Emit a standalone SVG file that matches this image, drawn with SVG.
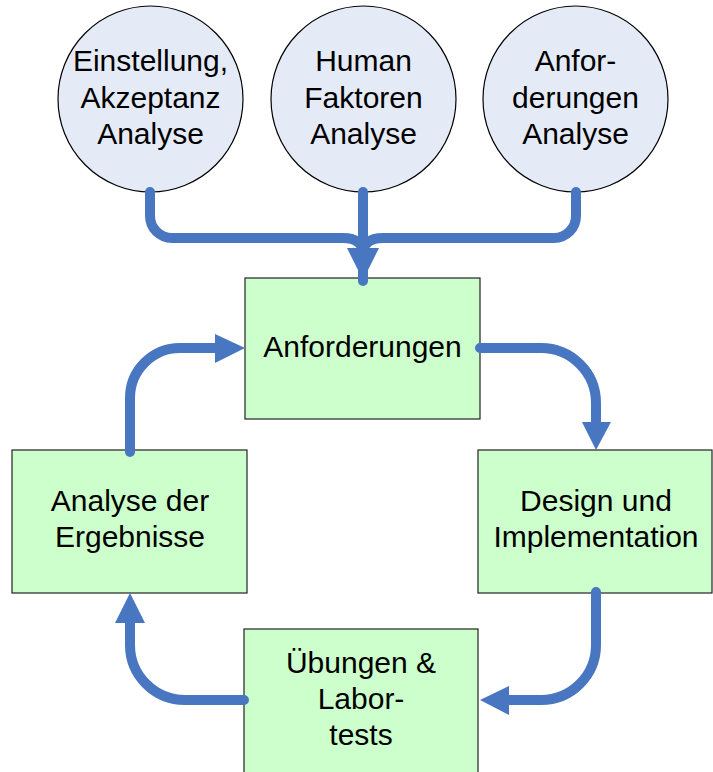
<svg xmlns="http://www.w3.org/2000/svg" width="713" height="772" viewBox="0 0 713 772">
<defs>
<style>
.ell{fill:#E5EBF6;stroke:#000;stroke-width:1.2}
.box{fill:#CCFFCC;stroke:#222;stroke-width:1.2}
.t{font-family:"Liberation Sans",Arial,sans-serif;font-size:30px;fill:#000;text-anchor:middle}
.c{fill:none;stroke:#4876C0;stroke-width:10;stroke-linecap:round;stroke-linejoin:round}
.ah{fill:#4876C0}
</style>
</defs>
<rect width="713" height="772" fill="#fff"/>
<g id="n1">
<ellipse class="ell" cx="150.5" cy="99" rx="92.5" ry="93"/>
<text class="t" x="150.5" y="71">Einstellung,</text>
<text class="t" x="150.5" y="108">Akzeptanz</text>
<text class="t" x="150.5" y="144">Analyse</text>
</g>
<g id="n2">
<ellipse class="ell" cx="363.5" cy="99" rx="92.5" ry="93"/>
<text class="t" x="363.5" y="71">Human</text>
<text class="t" x="363.5" y="108">Faktoren</text>
<text class="t" x="363.5" y="144">Analyse</text>
</g>
<g id="n3">
<ellipse class="ell" cx="575.5" cy="99" rx="92.5" ry="93"/>
<text class="t" x="575.5" y="71">Anfor-</text>
<text class="t" x="575.5" y="108">derungen</text>
<text class="t" x="575.5" y="144">Analyse</text>
</g>
<g id="n4">
<rect class="box" x="245" y="278" width="235" height="141"/>
<text class="t" x="362.5" y="357">Anforderungen</text>
</g>
<g id="n5">
<rect class="box" x="12" y="450" width="235" height="143"/>
<text class="t" x="130" y="511">Analyse der</text>
<text class="t" x="130" y="547">Ergebnisse</text>
</g>
<g id="n6">
<rect class="box" x="478" y="450" width="234" height="143"/>
<text class="t" x="596" y="511">Design und</text>
<text class="t" x="596" y="547">Implementation</text>
</g>
<g id="n7">
<rect class="box" x="244" y="629" width="234" height="160"/>
<text class="t" x="361" y="673">Übungen &amp;</text>
<text class="t" x="361" y="709">Labor-</text>
<text class="t" x="361" y="745">tests</text>
</g>
<g id="connectors">
<path class="c" d="M150,192 V216 A22,22 0 0 0 172,238 H343 Q363,238 363,255"/>
<path class="c" d="M576,192 V216 A22,22 0 0 1 554,238 H383 Q363,238 363,255"/>
<path class="c" d="M363,192 V281"/>
<polygon class="ah" points="347,248 379,248 363,280"/>
<path class="c" d="M480,348 H541 A55,55 0 0 1 596,403 V424"/>
<polygon class="ah" points="582,422 611,422 596,450"/>
<path class="c" d="M130,452 V398 A50,50 0 0 1 180,348 H218"/>
<polygon class="ah" points="215,334 215,363 245,348"/>
<path class="c" d="M596,592 V645 A55,55 0 0 1 541,700 H506"/>
<polygon class="ah" points="509,686 509,715 480,700"/>
<path class="c" d="M244,700 H185 A55,55 0 0 1 130,645 V620"/>
<polygon class="ah" points="115,623 145,623 130,593"/>
</g>
</svg>
